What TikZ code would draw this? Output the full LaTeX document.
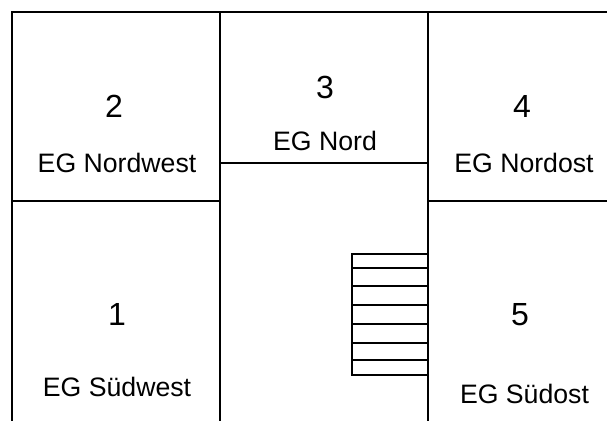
\documentclass[tikz,border=0pt]{standalone}
\usepackage{fontspec}
\setmainfont{Liberation Sans}
\tikzset{
  wall/.style={draw=black,line width=1.5pt,line cap=butt},
  thinwall/.style={draw=black,line width=1.1pt,line cap=butt},
  tread/.style={draw=black,line width=1.05pt,line cap=butt},
  numlabel/.style={anchor=base,inner sep=0pt,font=\fontsize{24pt}{27pt}\selectfont},
  roomlabel/.style={anchor=base,inner sep=0pt,font=\fontsize{20pt}{24pt}\selectfont},
}
\begin{document}
\begin{tikzpicture}[x=0.75pt,y=-0.75pt]
\useasboundingbox (0,0) rectangle (607,421);
% walls
\draw[wall] (607,12) -- (12,12) -- (12,421);
\draw[wall] (12,201) -- (220,201);
\draw[wall] (220,12) -- (220,421);
\draw[thinwall] (220,163) -- (428,163);
\draw[thinwall] (428,12) -- (428,421);
\draw[wall] (428,201) -- (607,201);
% stairs
\draw[tread] (428,254) -- (352,254) -- (352,375) -- (428,375);
\foreach \yy in {268,286,305,324,343,360}
  \draw[tread] (352,\yy) -- (428,\yy);
% labels
\node[numlabel] (n2) at (114,117) {2};
\node[roomlabel] (r2) at (117,172) {EG Nordwest};
\node[numlabel] (n3) at (325,98) {3};
\node[roomlabel] (r3) at (325,150) {EG Nord};
\node[numlabel] (n4) at (522,117) {4};
\node[roomlabel] (r4) at (524,172) {EG Nordost};
\node[numlabel] (n1) at (117,325) {1};
\node[roomlabel] (r1) at (117,396) {EG Südwest};
\node[numlabel] (n5) at (520,325) {5};
\node[roomlabel] (r5) at (524.5,403) {EG Südost};
\end{tikzpicture}
\end{document}
